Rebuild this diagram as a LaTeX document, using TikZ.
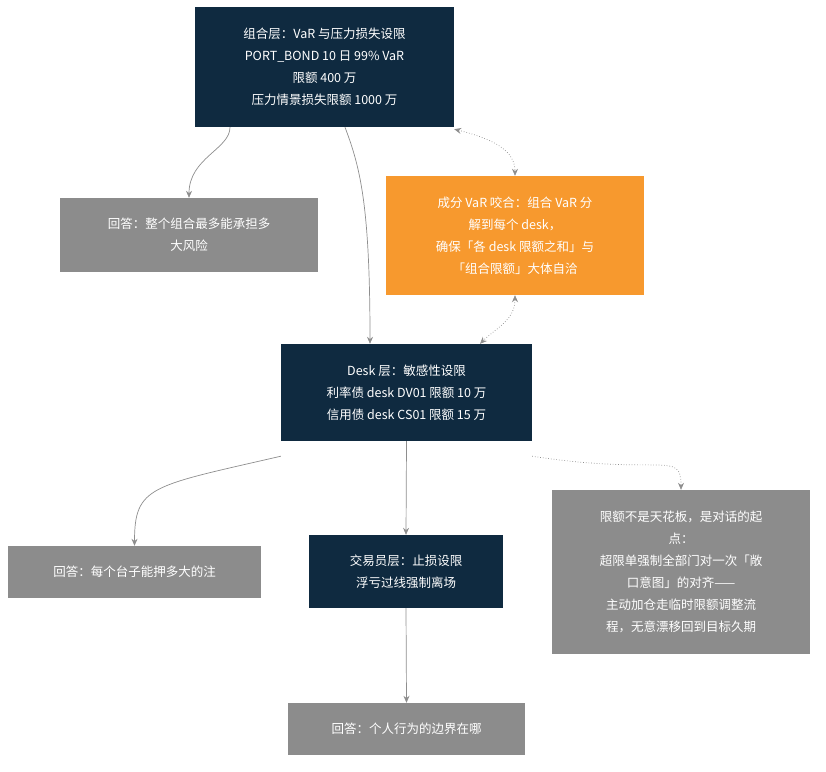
\documentclass[tikz,border=0pt]{standalone}
\usepackage{fontspec}
\setmainfont{Noto Sans CJK SC}
\usetikzlibrary{arrows.meta}
\definecolor{navy}{HTML}{0F2A40}
\definecolor{ashgray}{HTML}{8C8C8C}
\definecolor{amber}{HTML}{F7992E}
\definecolor{linegray}{HTML}{8E8E8E}
\tikzset{
  base/.style={rectangle, text=white, align=center, inner sep=0pt,
    font=\fontsize{12.5}{22}\selectfont},
  layer/.style={base, fill=navy},
  answer/.style={base, fill=ashgray},
  link/.style={draw=linegray, line width=0.7pt, -{Stealth[length=7pt,width=6pt]}},
  dlink/.style={link, dotted, {Stealth[length=7pt,width=6pt]}-{Stealth[length=7pt,width=6pt]}},
}
\begin{document}
\begin{tikzpicture}[x=1pt,y=-1pt]
        \useasboundingbox (0,0) rectangle (826,771);

        \node[layer, minimum width=259, minimum height=120] (port) at (324.5,67) {组合层：VaR 与压力损失设限\\PORT\_BOND 10 日 99\% VaR\\限额 400 万\\压力情景损失限额 1000 万};
        \node[answer, minimum width=258, minimum height=74] (ans1) at (189,235) {回答：整个组合最多能承担多\\大风险};
        \node[base, fill=amber, minimum width=258, minimum height=119] (comp) at (515,235.5) {成分 VaR 咬合：组合 VaR 分\\解到每个 desk，\\确保「各 desk 限额之和」与\\「组合限额」大体自洽};
        \node[layer, minimum width=251, minimum height=97] (desk) at (406.5,392.5) {Desk 层：敏感性设限\\利率债 desk DV01 限额 10 万\\信用债 desk CS01 限额 15 万};
        \node[answer, minimum width=253, minimum height=52] (ans2) at (134.5,572) {回答：每个台子能押多大的注};
        \node[layer, minimum width=194, minimum height=73] (trader) at (406,571.5) {交易员层：止损设限\\浮亏过线强制离场};
        \node[answer, minimum width=258, minimum height=164] (note) at (681,572) {限额不是天花板，是对话的起\\点：\\超限单强制全部门对一次「敞\\口意图」的对齐——\\主动加仓走临时限额调整流\\程，无意漂移回到目标久期};
        \node[answer, minimum width=237, minimum height=52] (ans3) at (406.5,729) {回答：个人行为的边界在哪};

        \draw[link] ([xshift=-94.5pt]port.south) .. controls +(0,22) and +(0,-40) .. (ans1.north);
        \draw[link] ([xshift=20.5pt]port.south) .. controls +(15,40) and +(0,-140) .. ([xshift=-36.5pt]desk.north);
        \draw[dlink] ([yshift=-2pt]port.south east) .. controls +(40,10) and +(0,-25) .. (comp.north);
        \draw[dlink] (comp.south) .. controls +(0,25) and +(15,-15) .. ([xshift=73.5pt]desk.north);
        \draw[link] ([yshift=-15pt]desk.south west) .. controls +(-130,30) and +(0,-60) .. (ans2.north);
        \draw[link] (desk.south) -- (trader.north);
        \draw[link, dotted] ([yshift=-15pt]desk.south east) .. controls +(130,20) and +(0,-40) .. (note.north);
        \draw[link] (trader.south) -- (ans3.north);

\end{tikzpicture}
\end{document}
